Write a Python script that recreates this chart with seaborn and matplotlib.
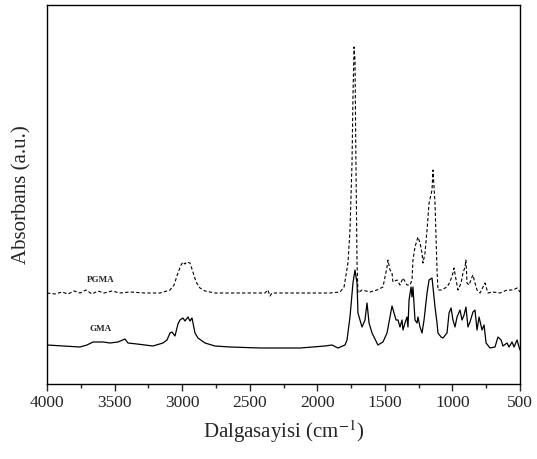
import matplotlib
matplotlib.use("Agg")
import matplotlib.pyplot as plt
import seaborn as sns
import pandas as pd
from matplotlib.ticker import MultipleLocator, NullLocator

# --- data ---
gma_wn = [4000, 3756, 3704, 3660, 3586, 3534, 3475, 3423, 3401, 3334, 3216, 3142,
          3112, 3090, 3075, 3053, 3031, 3016, 2994, 2979, 2957, 2942, 2927, 2905,
          2883, 2831, 2757, 2646, 2424, 2128, 1943, 1891, 1847, 1795, 1780, 1758,
          1736, 1721, 1706, 1699, 1669, 1647, 1632, 1617, 1595, 1551, 1514, 1484,
          1462, 1447, 1432, 1417, 1403, 1388, 1373, 1366, 1351, 1336, 1329, 1321,
          1306, 1299, 1292, 1277, 1262, 1255, 1240, 1225, 1210, 1188, 1173, 1151,
          1144, 1129, 1114, 1107, 1084, 1070, 1040, 1025, 1010, 996, 981, 966,
          944, 929, 914, 900, 885, 870, 848, 833, 818, 803, 781, 766, 751, 722,
          685, 663, 640, 626, 596, 581, 559, 544, 522, 507, 500]
gma_abs = [0.39, 0.37, 0.39, 0.42, 0.42, 0.41, 0.42, 0.45, 0.41, 0.40, 0.38, 0.41,
           0.44, 0.51, 0.52, 0.48, 0.60, 0.64, 0.66, 0.63, 0.67, 0.63, 0.66, 0.51,
           0.46, 0.41, 0.38, 0.37, 0.36, 0.36, 0.38, 0.39, 0.36, 0.39, 0.44, 0.67,
           1.01, 1.14, 1.01, 0.71, 0.57, 0.64, 0.81, 0.61, 0.51, 0.39, 0.42, 0.51,
           0.67, 0.78, 0.71, 0.64, 0.64, 0.57, 0.64, 0.54, 0.61, 0.67, 0.57, 0.84,
           0.97, 0.87, 0.97, 0.64, 0.61, 0.67, 0.57, 0.51, 0.64, 0.91, 1.04, 1.06,
           0.97, 0.77, 0.61, 0.51, 0.47, 0.46, 0.51, 0.71, 0.76, 0.64, 0.57, 0.67,
           0.74, 0.64, 0.69, 0.77, 0.57, 0.62, 0.72, 0.74, 0.54, 0.67, 0.54, 0.59,
           0.41, 0.36, 0.37, 0.47, 0.44, 0.38, 0.41, 0.37, 0.42, 0.37, 0.44, 0.37,
           0.34]

pgma_wn = [4000, 3941, 3889, 3845, 3800, 3756, 3711, 3667, 3623, 3578, 3519, 3460,
           3386, 3275, 3164, 3090, 3060, 3031, 3008, 2994, 2979, 2964, 2942, 2920,
           2897, 2868, 2831, 2757, 2572, 2387, 2365, 2350, 2335, 2128, 1906, 1832,
           1802, 1773, 1758, 1743, 1736, 1728, 1721, 1714, 1706, 1699, 1669, 1610,
           1558, 1514, 1484, 1477, 1462, 1447, 1440, 1410, 1388, 1366, 1336, 1314,
           1299, 1292, 1277, 1262, 1255, 1240, 1225, 1218, 1203, 1188, 1173, 1151,
           1144, 1129, 1114, 1107, 1077, 1055, 1040, 1018, 996, 988, 973, 959,
           936, 922, 907, 900, 892, 877, 855, 848, 833, 818, 796, 759, 744, 737,
           700, 648, 596, 552, 522, 500]
pgma_abs = [0.91, 0.90, 0.92, 0.90, 0.93, 0.91, 0.94, 0.90, 0.93, 0.91, 0.93, 0.91,
            0.92, 0.91, 0.91, 0.94, 0.99, 1.11, 1.19, 1.22, 1.20, 1.22, 1.21, 1.12,
            1.02, 0.96, 0.93, 0.91, 0.91, 0.91, 0.94, 0.88, 0.91, 0.91, 0.91, 0.92,
            0.97, 1.21, 1.54, 2.21, 2.87, 3.37, 3.24, 2.21, 1.21, 0.91, 0.94, 0.92,
            0.94, 0.97, 1.17, 1.24, 1.14, 1.11, 1.02, 1.04, 0.99, 1.06, 0.99, 0.99,
            1.04, 1.24, 1.37, 1.44, 1.47, 1.41, 1.31, 1.21, 1.31, 1.54, 1.81, 1.94,
            2.14, 1.81, 1.14, 0.94, 0.94, 0.96, 0.97, 1.02, 1.11, 1.16, 1.04, 0.94,
            1.01, 1.11, 1.17, 1.24, 1.01, 0.99, 1.07, 1.09, 1.01, 0.94, 0.91, 1.01,
            0.94, 0.91, 0.92, 0.91, 0.94, 0.94, 0.96, 0.92]

x_ticks = [4000, 3500, 3000, 2500, 2000, 1500, 1000, 500]

gma = pd.DataFrame({"wn": gma_wn, "abs": gma_abs})
pgma = pd.DataFrame({"wn": pgma_wn, "abs": pgma_abs})

sns.set_style("ticks")
plt.rcParams["font.family"] = ["Liberation Serif", "DejaVu Serif"]
plt.rcParams["mathtext.fontset"] = "stix"

fig = plt.figure(figsize=(5.37, 4.59), dpi=100)
ax = fig.add_axes([47 / 537, 1 - 384 / 459, (520 - 47) / 537, (384 - 5) / 459])

sns.lineplot(data=pgma, x="wn", y="abs", ax=ax, color="black", lw=0.8,
             linestyle=(0, (3, 2)), sort=False)
sns.lineplot(data=gma, x="wn", y="abs", ax=ax, color="black", lw=0.9, sort=False)

ax.set_xlim(4000, 500)
ax.set_ylim(0, 3.79)
ax.set_xticks(x_ticks)
ax.set_xticklabels([str(t) for t in x_ticks], fontsize=12.5)
ax.xaxis.set_minor_locator(MultipleLocator(250))
ax.yaxis.set_major_locator(NullLocator())
ax.tick_params(axis="x", which="major", direction="out", length=5, width=1, pad=3)
ax.tick_params(axis="x", which="minor", direction="out", length=3, width=1)
for s in ax.spines.values():
    s.set_linewidth(1)
    s.set_color("black")

ax.set_xlabel("Dalgasayisi (cm$^{-1}$)", fontsize=15, labelpad=5)
ax.set_ylabel("Absorbans (a.u.)", fontsize=15, labelpad=11)

ax.text(3600, 1.04, "PGMA", fontsize=6.5, fontweight="bold", ha="center", va="center")
ax.text(3600, 0.55, "GMA", fontsize=6.5, fontweight="bold", ha="center", va="center")

fig.savefig("out.png", dpi=100)
